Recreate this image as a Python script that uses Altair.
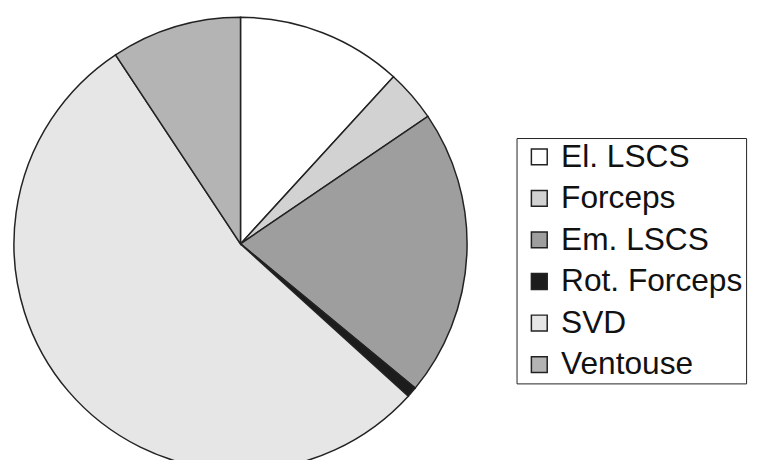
import altair as alt
import pandas as pd

categories = ["El. LSCS", "Forceps", "Em. LSCS", "Rot. Forceps", "SVD", "Ventouse"]
shares = [11.8, 3.7, 20.5, 0.75, 54.0, 9.3]
fills = ["#ffffff", "#d2d2d2", "#9e9e9e", "#1c1c1c", "#e6e6e6", "#b4b4b4"]

df = pd.DataFrame({"cat": categories, "share": shares, "idx": list(range(len(categories)))})

pie = alt.Chart(df).mark_arc(
    outerRadius=229, stroke="#222222", strokeWidth=1.5
).encode(
    theta=alt.Theta("share:Q", stack=True),
    order=alt.Order("idx:Q"),
    x=alt.value(235),
    y=alt.value(236),
    color=alt.Color(
        "cat:N",
        scale=alt.Scale(domain=categories, range=fills),
        title=None,
        legend=alt.Legend(
            orient="none",
            legendX=514,
            legendY=129,
            symbolType="square",
            symbolSize=256,
            symbolStrokeColor="#222222",
            symbolStrokeWidth=1.5,
            symbolOpacity=1,
            symbolOffset=4,
            labelFont="Liberation Sans",
            labelFontSize=32,
            labelColor="#111111",
            labelOffset=6,
            rowPadding=10,
            padding=3,
            strokeColor="#222222",
            labelLimit=400,
        ),
    ),
)

chart = pie.properties(width=754, height=452, padding=0, autosize="none").configure_view(stroke=None)

chart.save("out.html", embed_options={"renderer": "svg", "actions": False})
